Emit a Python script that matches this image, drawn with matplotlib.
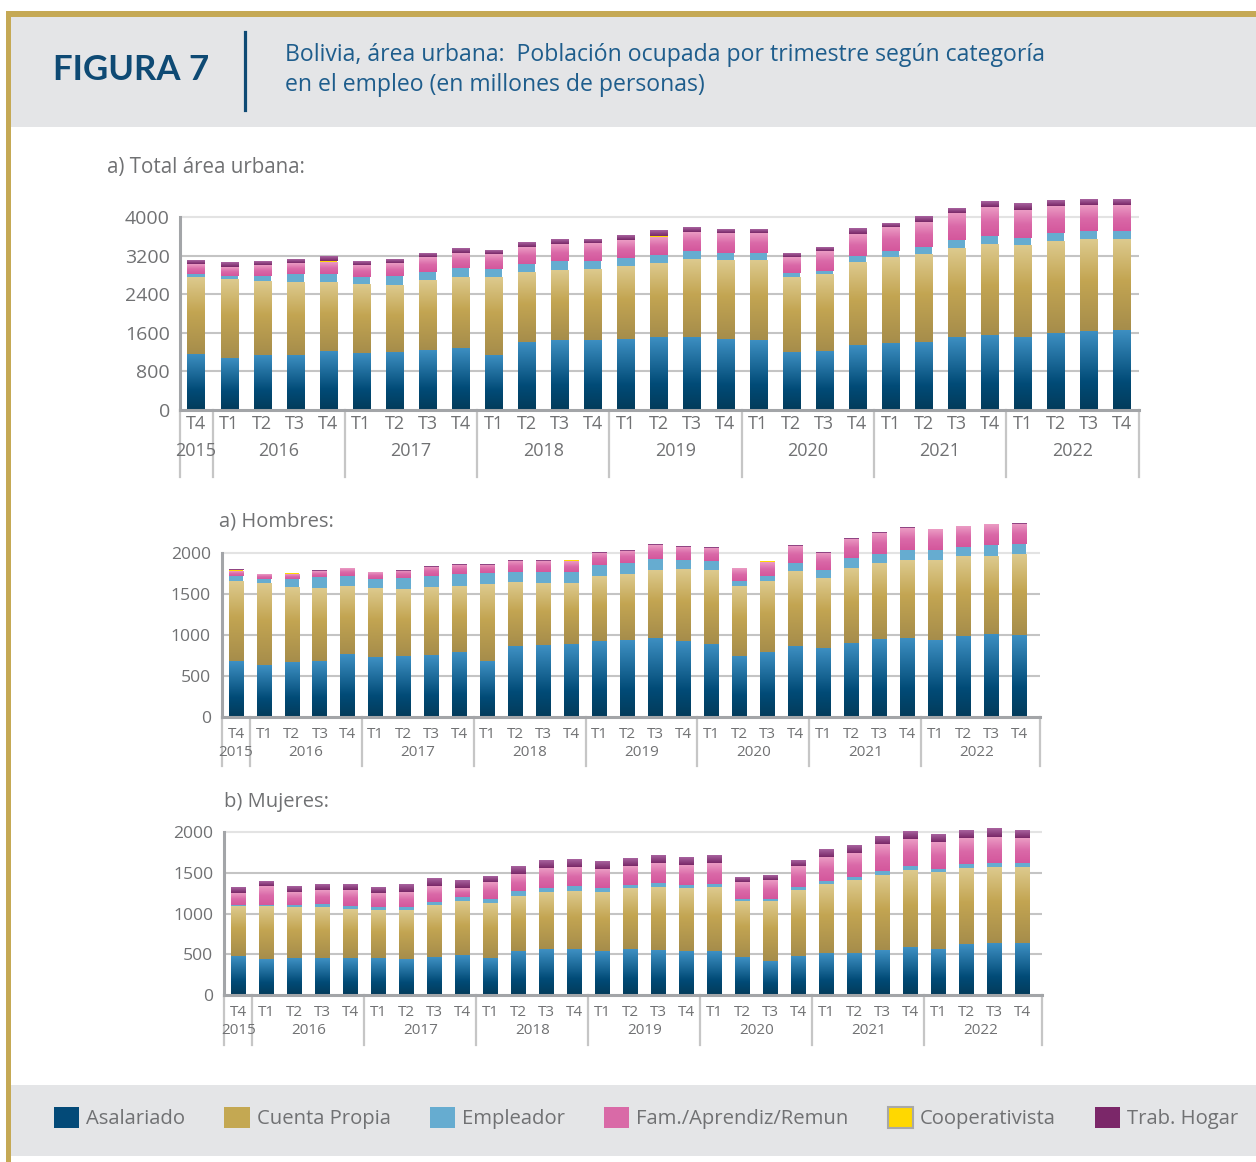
import matplotlib
matplotlib.use('Agg')
import matplotlib.pyplot as plt
import numpy as np
from matplotlib.colors import LinearSegmentedColormap
from matplotlib.patches import Rectangle, Patch
from matplotlib.lines import Line2D
import matplotlib.transforms as mtrans

# ---------------- data ----------------
quarters = ['T4', 'T1', 'T2', 'T3', 'T4', 'T1', 'T2', 'T3', 'T4', 'T1', 'T2', 'T3', 'T4',
            'T1', 'T2', 'T3', 'T4', 'T1', 'T2', 'T3', 'T4', 'T1', 'T2', 'T3', 'T4',
            'T1', 'T2', 'T3', 'T4']
years = ['2015', '2016', '2017', '2018', '2019', '2020', '2021', '2022']
categories = ['Asalariado', 'Cuenta Propia', 'Empleador', 'Fam./Aprendiz/Remun',
              'Cooperativista', 'Trab. Hogar']

# Total área urbana (miles de personas)
asal_t = [1164, 1081, 1144, 1144, 1227, 1185, 1205, 1248, 1289, 1144, 1413, 1456, 1456, 1476,
          1518, 1518, 1476, 1456, 1205, 1227, 1352, 1393, 1413, 1518, 1559, 1518, 1601, 1642, 1663]
cp_t = [1580, 1622, 1518, 1497, 1413, 1413, 1372, 1434, 1456, 1601, 1434, 1434, 1456, 1497,
        1518, 1601, 1622, 1642, 1538, 1580, 1705, 1767, 1809, 1830, 1871, 1892, 1892, 1892, 1871]
emp_t = [82, 82, 124, 185, 185, 165, 206, 185, 206, 185, 185, 206, 185, 185,
         185, 185, 165, 165, 103, 82, 144, 144, 165, 165, 185, 165, 185, 185, 185]
fam_t = [206, 185, 227, 227, 247, 247, 268, 309, 309, 309, 350, 350, 371, 371,
         371, 392, 412, 412, 330, 412, 453, 495, 515, 577, 598, 577, 556, 536, 536]
coop_t = [0, 0, 0, 0, 21, 0, 0, 0, 0, 0, 0, 0, 0, 0,
          14, 0, 0, 0, 0, 0, 0, 0, 0, 0, 0, 0, 0, 0, 0]
hog_t = [82, 103, 82, 82, 103, 82, 82, 82, 103, 82, 103, 103, 82, 103,
         110, 103, 82, 82, 82, 82, 124, 82, 124, 103, 124, 144, 124, 124, 124]

# Hombres
asal_h = [681, 632, 669, 681, 767, 730, 743, 755, 792, 681, 865, 877, 889, 926,
          938, 967, 930, 894, 747, 796, 869, 845, 906, 955, 967, 942, 991, 1016, 1004]
cp_h = [967, 991, 906, 881, 820, 832, 808, 820, 796, 930, 771, 747, 734, 783,
        796, 820, 869, 894, 845, 857, 906, 845, 906, 918, 942, 967, 967, 942, 979]
emp_h = [73, 57, 110, 147, 135, 118, 147, 147, 159, 147, 135, 147, 147, 147,
         147, 147, 122, 122, 73, 73, 110, 110, 135, 122, 135, 135, 122, 147, 135]
fam_h = [57, 57, 61, 73, 86, 78, 86, 110, 110, 98, 135, 135, 131, 147,
         147, 159, 159, 159, 147, 171, 208, 208, 233, 257, 257, 245, 245, 245, 245]
coop_h = [12, 12, 12, 0, 0, 12, 0, 0, 0, 0, 0, 0, 16, 0,
          0, 12, 0, 0, 0, 12, 0, 0, 0, 0, 8, 12, 12, 12, 0]
hog_h = [4, 0, 0, 12, 0, 0, 12, 12, 12, 12, 12, 12, 0, 12,
         12, 4, 12, 12, 0, 0, 12, 12, 12, 12, 8, 0, 0, 0, 12]

# Mujeres
asal_m = [477, 441, 453, 453, 453, 453, 441, 465, 490, 453, 539, 563, 563, 539,
          563, 551, 539, 539, 465, 416, 477, 514, 514, 551, 588, 563, 624, 637, 637]
cp_m = [612, 649, 624, 624, 600, 588, 600, 636, 661, 673, 673, 698, 710, 722,
        747, 771, 771, 783, 685, 734, 808, 845, 894, 918, 942, 942, 930, 930, 930]
emp_m = [12, 12, 24, 37, 37, 37, 37, 37, 49, 49, 61, 49, 61, 49,
         37, 49, 37, 37, 24, 24, 37, 37, 37, 49, 49, 37, 49, 49, 49]
fam_m = [147, 233, 159, 171, 196, 171, 184, 196, 110, 208, 208, 245, 233, 233,
         233, 245, 245, 257, 208, 233, 257, 294, 294, 330, 330, 330, 318, 318, 306]
coop_m = [0] * 29
hog_m = [73, 61, 73, 73, 73, 73, 86, 98, 86, 73, 86, 86, 86, 86,
         98, 98, 86, 86, 61, 61, 73, 86, 86, 98, 98, 98, 98, 110, 98]

# ---------------- styling ----------------
W, H = 1256, 1162
plt.rcParams['font.family'] = ['Open Sans', 'DejaVu Sans']
fig = plt.figure(figsize=(W / 100, H / 100), dpi=100)


def fx(x):
    return x / W


def fy(y):
    return 1 - y / H


GOLD = '#c5a955'
GRAY_BG = '#e4e5e7'
TXT = '#707173'
NAVY = '#0e4a74'

fig.add_artist(Rectangle((fx(6), 0), 1 - fx(6), fy(11), facecolor=GOLD,
                         edgecolor='none', transform=fig.transFigure, zorder=0))
fig.add_artist(Rectangle((fx(11), 0), 1 - fx(11), fy(17), facecolor='white',
                         edgecolor='none', transform=fig.transFigure, zorder=0))
fig.add_artist(Rectangle((fx(11), fy(127)), 1 - fx(11), 110 / H, facecolor=GRAY_BG,
                         edgecolor='none', transform=fig.transFigure, zorder=0))
fig.add_artist(Rectangle((fx(11), fy(1156)), 1 - fx(11), 71 / H, facecolor=GRAY_BG,
                         edgecolor='none', transform=fig.transFigure, zorder=0))

# header
fig.text(fx(53), fy(70), 'FIGURA 7', fontsize=25, fontweight='bold', color=NAVY,
         va='center', ha='left', family=['Lato', 'DejaVu Sans'])
fig.add_artist(Line2D([fx(245), fx(245)], [fy(32), fy(110)], color=NAVY, lw=2.3,
                      transform=fig.transFigure))
fig.text(fx(285), fy(55), 'Bolivia, área urbana:  Población ocupada por trimestre según categoría',
         fontsize=16.6, color='#1e5d8c', va='center', ha='left')
fig.text(fx(285), fy(85), 'en el empleo (en millones de personas)',
         fontsize=16.6, color='#1e5d8c', va='center', ha='left')

cm_blue = LinearSegmentedColormap.from_list('b', [(0, '#033b5a'), (0.35, '#014b77'), (1, '#3e90c3')])
cm_tan = LinearSegmentedColormap.from_list('t', [(0, '#a68d4b'), (0.55, '#c3a552'), (1, '#ddca8e')])
cm_pink = LinearSegmentedColormap.from_list('p', [(0, '#d4579c'), (0.5, '#da69a8'), (1, '#eb9cc4')])
cm_purp = LinearSegmentedColormap.from_list('u', [(0, '#782767'), (1, '#a9639f')])
styles = [('#034a78', cm_blue), ('#c4a852', cm_tan), ('#66acd0', None),
          ('#d96aa7', cm_pink), ('#ffd800', None), ('#7b2769', cm_purp)]
grad = np.linspace(0, 1, 128).reshape(-1, 1)


def make_ax(left, right, zero, tick_px, tick_val, ymax):
    ppu = (zero - tick_px) / tick_val
    top = zero - ymax * ppu
    ax = fig.add_axes([fx(left), fy(zero), (right - left) / W, (zero - top) / H])
    return ax, zero - top


def draw(ax, axh, series, width, ticks, xlim, ymax, fs_y, fs_q, fs_yr,
         q_off, yr_off, sep_len, ypad):
    n = len(series[0])
    x = np.arange(n)
    bottom = np.zeros(n)
    for vals, (solid, cmap) in zip(series, styles):
        vals = np.asarray(vals, dtype=float)
        bars = ax.bar(x, vals, width, bottom=bottom, color=solid, linewidth=0, zorder=3)
        if cmap is not None:
            for b in bars:
                if b.get_height() <= 0:
                    continue
                x0, y0, w, h = b.get_x(), b.get_y(), b.get_width(), b.get_height()
                ax.imshow(grad, extent=[x0, x0 + w, y0, y0 + h], origin='lower',
                          aspect='auto', cmap=cmap, interpolation='bilinear', zorder=4)
        bottom += vals
    ax.set_xlim(*xlim)
    ax.set_ylim(0, ymax)
    ax.set_yticks(ticks)
    ax.set_yticklabels([str(t) for t in ticks])
    ax.grid(axis='y', color='#c4c4c4', lw=1.5, zorder=0)
    ax.set_axisbelow(True)
    gl = ax.get_ygridlines()
    gl[-1].set_color('#e3e3e3')
    gl[0].set_visible(False)
    for s in ['top', 'right']:
        ax.spines[s].set_visible(False)
    ax.spines['left'].set_color('#a3a5a8')
    ax.spines['left'].set_linewidth(2.2)
    ax.spines['left'].set_bounds(0, ticks[-1])
    ax.spines['bottom'].set_color('#a3a5a8')
    ax.spines['bottom'].set_linewidth(2.2)
    ax.spines['bottom'].set_zorder(5)
    ax.tick_params(axis='y', length=0, pad=ypad, labelsize=fs_y, labelcolor=TXT)
    ax.set_xticks([])
    ax.patch.set_alpha(0)
    bl = mtrans.blended_transform_factory(ax.transData, ax.transAxes)
    tq = mtrans.offset_copy(bl, fig=fig, y=-q_off, units='dots')
    ty = mtrans.offset_copy(bl, fig=fig, y=-yr_off, units='dots')
    for i, q in enumerate(quarters):
        ax.text(i, 0, q, transform=tq, ha='center', va='center', fontsize=fs_q, color=TXT)
    centers = [0] + [2.5 + 4 * k for k in range(len(years) - 1)]
    for c, yv in zip(centers, years):
        ax.text(c, 0, yv, transform=ty, ha='center', va='center', fontsize=fs_yr, color=TXT)
    seps = [xlim[0], 0.5] + [4.5 + 4 * k for k in range(6)] + [xlim[1]]
    for s in seps:
        ax.add_line(Line2D([s, s], [0, -sep_len / axh], transform=bl, color='#c6c6c6',
                           lw=1.6, clip_on=False))


# a) Total
ax1, h1 = make_ax(179.5, 1138.5, 410, 217, 4000, 4450)
draw(ax1, h1, [asal_t, cp_t, emp_t, fam_t, coop_t, hog_t], 0.52,
     [0, 800, 1600, 2400, 3200, 4000], (-0.5, 28.5), 4450,
     14, 13, 13, 14, 41, 67, 7)
fig.text(fx(107), fy(167), 'a) Total área urbana:', fontsize=14.8, color=TXT, va='center')

# Hombres
ax2, h2 = make_ax(222, 1040, 717, 553.3, 2000, 2420)
draw(ax2, h2, [asal_h, cp_h, emp_h, fam_h, coop_h, hog_h], 0.53,
     [0, 500, 1000, 1500, 2000], (-0.5, 28.75), 2420,
     12.6, 11, 11, 17, 35, 49, 8)
fig.text(fx(219), fy(521), 'a) Hombres:', fontsize=14.5, color=TXT, va='center')

# Mujeres
ax3, h3 = make_ax(224.3, 1042, 995, 832, 2000, 2100)
draw(ax3, h3, [asal_m, cp_m, emp_m, fam_m, coop_m, hog_m], 0.53,
     [0, 500, 1000, 1500, 2000], (-0.5, 28.7), 2100,
     12.6, 11, 11, 17, 35, 50, 8)
fig.text(fx(224), fy(802), 'b) Mujeres:', fontsize=14.5, color=TXT, va='center')

# legend
handles = []
for cat, (solid, _) in zip(categories, styles):
    if cat == 'Cooperativista':
        handles.append(Patch(facecolor=solid, edgecolor='#a8a8a8', linewidth=1.5, label=cat))
    else:
        handles.append(Patch(facecolor=solid, edgecolor='none', label=cat))
fig.legend(handles=handles, loc='center left', bbox_to_anchor=(fx(54), fy(1118)),
           ncol=6, frameon=False, fontsize=14.6, handlelength=1.25, handleheight=1.25,
           handletextpad=0.35, columnspacing=1.92, borderpad=0, borderaxespad=0,
           labelcolor=TXT)

fig.savefig('out.png', dpi=100)
